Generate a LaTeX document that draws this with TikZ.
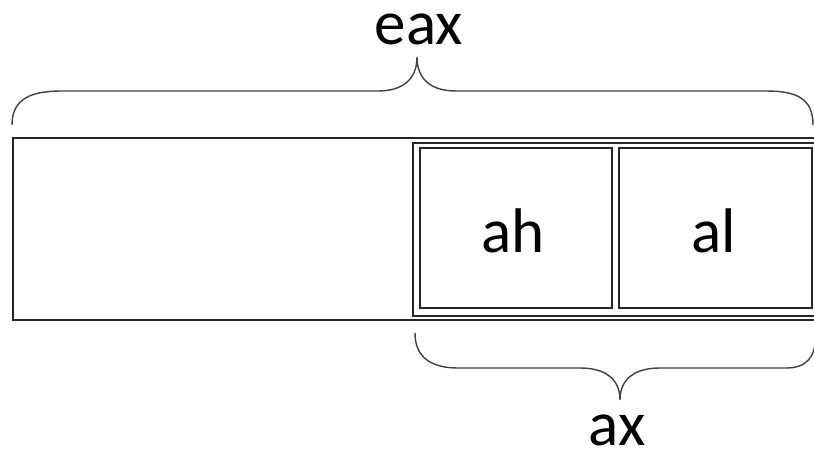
\documentclass[tikz,border=0pt]{standalone}
\usepackage{fontspec}
\setmainfont{Carlito}
\begin{document}
\begin{tikzpicture}[x=1pt,y=-1pt,
  box/.style={draw=black!85,line width=1.7pt,inner sep=0pt,anchor=north west},
  brace/.style={draw=black!75,line width=1.4pt},
  lbl/.style={font=\fontsize{63}{66}\selectfont,anchor=base,inner sep=0pt}]
\useasboundingbox (0,0) rectangle (814,452);
\fill[white] (0,0) rectangle (814,452);
% registers
\node[box,minimum width=818pt,minimum height=182pt] (eaxbox) at (12,137) {};
\node[box,minimum width=418pt,minimum height=173pt] (axbox) at (412,142) {};
\node[box,minimum width=192pt,minimum height=160pt] (ahbox) at (419,147) {};
\node[box,minimum width=193pt,minimum height=160pt] (albox) at (618,147) {};
\node[lbl] (ah) at (513,252) {ah};
\node[lbl] (al) at (714,252) {al};
\node[lbl] (eax) at (419,45) {eax};
\node[lbl] (ax) at (617,445) {ax};
% top brace
\coordinate (t1) at (12,125);
\coordinate (t2) at (417,57);
\coordinate (t3) at (813,125);
\draw[brace] (t1) .. controls (12,98) and (32,91) .. (62,91) -- (378,91)
  .. controls (402,91) and (417,80) .. (t2)
  .. controls (417,80) and (432,91) .. (456,91) -- (766,91)
  .. controls (796,91) and (813,98) .. (t3);
% bottom brace
\coordinate (b1) at (415,333);
\coordinate (b2) at (620,400);
\coordinate (b3) at (816,333);
\draw[brace] (b1) .. controls (415,358) and (432,368) .. (458,368) -- (580,368)
  .. controls (604,368) and (620,378) .. (b2)
  .. controls (620,378) and (636,368) .. (660,368) -- (786,368)
  .. controls (806,368) and (816,358) .. (b3);
\end{tikzpicture}
\end{document}
